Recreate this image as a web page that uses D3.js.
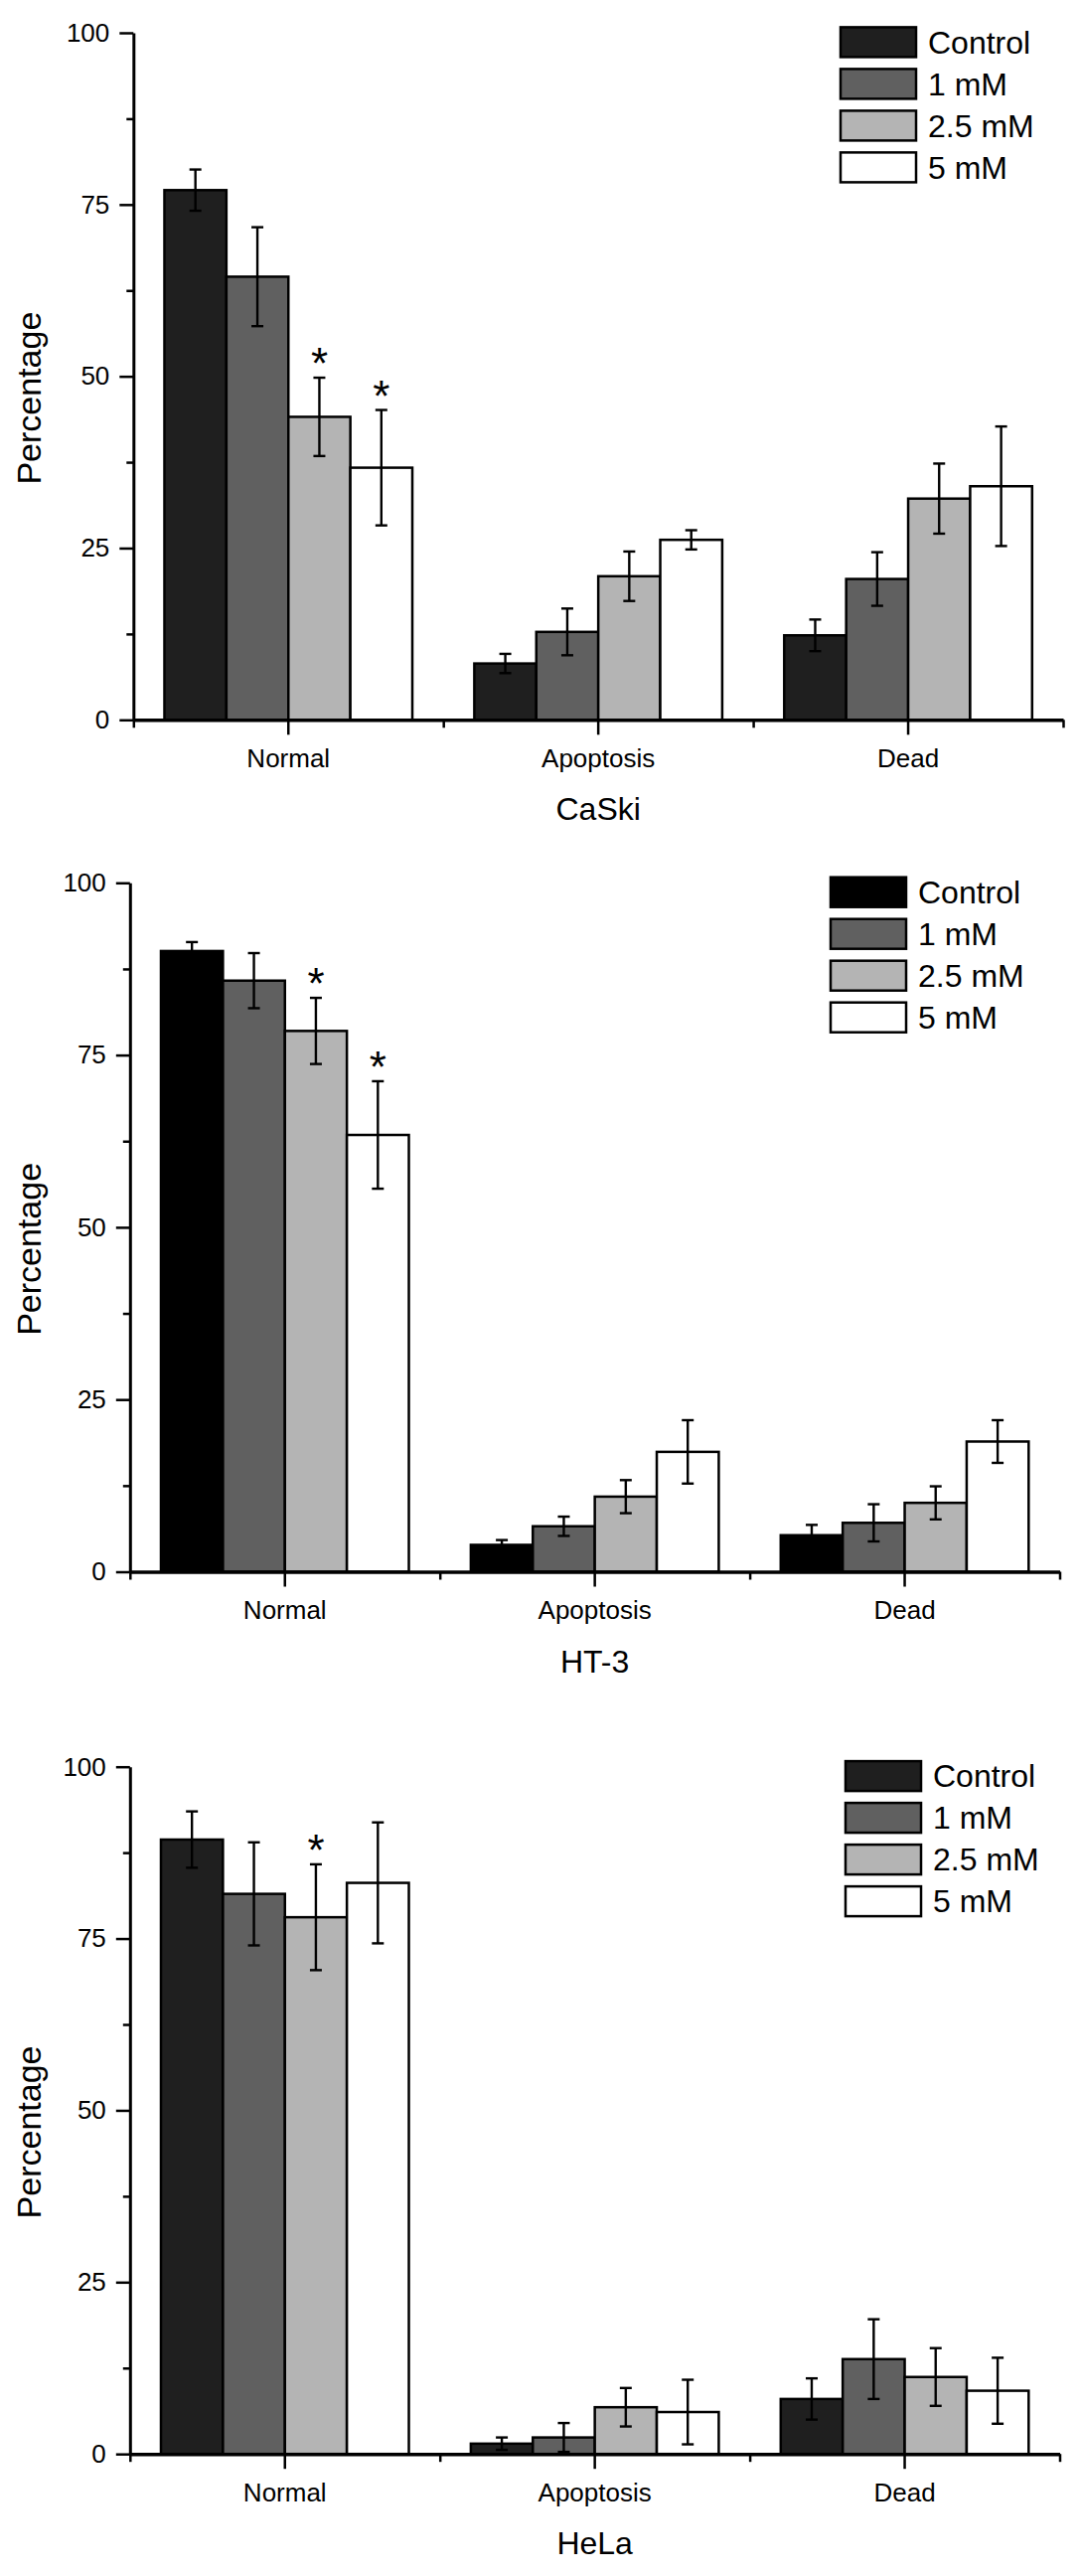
<!DOCTYPE html>
<html>
<head>
<meta charset="utf-8">
<script src="https://cdn.jsdelivr.net/npm/d3@7"></script>
<style>
  html, body { margin: 0; padding: 0; background: #fff; }
  svg { display: block; }
  text { font-family: "Liberation Sans", Arial, Helvetica, sans-serif; fill: #000; }
</style>
</head>
<body>
<script>
// ---------------- DATA ----------------
const categories = ["Normal", "Apoptosis", "Dead"];
const seriesNames = ["Control", "1 mM", "2.5 mM", "5 mM"];
const cellLines = ["CaSki", "HT-3", "HeLa"];
const yTicks = [0, 25, 50, 75, 100];
const yMinorTicks = [12.5, 37.5, 62.5, 87.5];

// means[series][category]
const caskiMeans = [
  [77.1, 8.2, 12.3],
  [64.5, 12.8, 20.5],
  [44.1, 20.9, 32.2],
  [36.7, 26.2, 34.0]
];
const caskiErrors = [
  [3.0, 1.4, 2.3],
  [7.2, 3.4, 3.9],
  [5.7, 3.6, 5.1],
  [8.4, 1.4, 8.7]
];
const caskiSignificant = [[0, 2], [0, 3]]; // [category, series]

const ht3Means = [
  [90.1, 3.9, 5.3],
  [85.8, 6.6, 7.1],
  [78.5, 10.9, 10.0],
  [63.4, 17.4, 18.9]
];
const ht3Errors = [
  [1.3, 0.7, 1.5],
  [4.0, 1.4, 2.7],
  [4.8, 2.4, 2.4],
  [7.8, 4.6, 3.1]
];
const ht3Significant = [[0, 2], [0, 3]];

const helaMeans = [
  [89.4, 1.5, 8.0],
  [81.5, 2.4, 13.8],
  [78.1, 6.8, 11.2],
  [83.1, 6.1, 9.2]
];
const helaErrors = [
  [4.1, 0.9, 3.0],
  [7.5, 2.1, 5.8],
  [7.7, 2.8, 4.2],
  [8.8, 4.7, 4.8]
];
const helaSignificant = [[0, 2]];

const allMeans = [caskiMeans, ht3Means, helaMeans];
const allErrors = [caskiErrors, ht3Errors, helaErrors];
const allSignificant = [caskiSignificant, ht3Significant, helaSignificant];

// ---------------- LAYOUT / STYLE ----------------
const W = 1087, H = 2592;
const panelLayout = [
  { top: 33.0,   bottom: 724.3,  dx: 0,    legendX: 846, controlFill: "#1f1f1f" },
  { top: 888.3,  bottom: 1581.5, dx: -3.5, legendX: 836, controlFill: "#000000" },
  { top: 1777.7, bottom: 2469.2, dx: -3.5, legendX: 851, controlFill: "#1f1f1f" }
];
const xLeft = 134.3, xRight = 1070;
const seriesFills = ["#1f1f1f", "#606060", "#b4b4b4", "#ffffff"];

const svg = d3.select("body").append("svg")
  .attr("width", W).attr("height", H)
  .attr("viewBox", `0 0 ${W} ${H}`);
svg.append("rect").attr("width", W).attr("height", H).attr("fill", "#fff");

panelLayout.forEach((L, p) => {
  const means = allMeans[p], errs = allErrors[p], sig = allSignificant[p];
  const g = svg.append("g").attr("transform", `translate(${L.dx},0)`);

  const x = d3.scaleBand().domain(categories).range([xLeft, xRight]).paddingInner(0).paddingOuter(0);
  const xs = d3.scaleBand().domain(seriesNames).range([x.bandwidth() * 0.1, x.bandwidth() * 0.9]).padding(0);
  const y = d3.scaleLinear().domain([0, 100]).range([L.bottom, L.top]);
  const fills = seriesFills.map((c, i) => i === 0 ? L.controlFill : c);

  // bars
  const barData = [];
  seriesNames.forEach((s, si) => categories.forEach((c, ci) => {
    barData.push({ s, si, c, ci, v: means[si][ci], e: errs[si][ci] });
  }));

  g.append("g").selectAll("rect").data(barData).join("rect")
    .attr("x", d => x(d.c) + xs(d.s))
    .attr("y", d => y(d.v))
    .attr("width", xs.bandwidth())
    .attr("height", d => y(0) - y(d.v))
    .attr("fill", d => fills[d.si])
    .attr("stroke", "#000")
    .attr("stroke-width", 2.5);

  // error bars
  const eg = g.append("g").attr("stroke", "#000").attr("stroke-width", 2.4).attr("fill", "none");
  const capW = 12;
  barData.forEach(d => {
    const cx = x(d.c) + xs(d.s) + xs.bandwidth() / 2;
    const y1 = y(d.v + d.e), y2 = y(d.v - d.e);
    eg.append("line").attr("x1", cx).attr("x2", cx).attr("y1", y1).attr("y2", y2);
    eg.append("line").attr("x1", cx - capW / 2).attr("x2", cx + capW / 2).attr("y1", y1).attr("y2", y1);
    eg.append("line").attr("x1", cx - capW / 2).attr("x2", cx + capW / 2).attr("y1", y2).attr("y2", y2);
  });

  // significance asterisks
  g.append("g").selectAll("text").data(sig).join("text")
    .attr("x", d => x(categories[d[0]]) + xs(seriesNames[d[1]]) + xs.bandwidth() / 2)
    .attr("y", d => y(means[d[1]][d[0]] + errs[d[1]][d[0]]) + 1)
    .attr("text-anchor", "middle")
    .attr("font-size", 44)
    .text("*");

  // y axis
  const yAxis = d3.axisLeft(y).tickValues(yTicks).tickSize(14).tickSizeOuter(0).tickPadding(10).tickFormat(d3.format("d"));
  const ya = g.append("g").attr("transform", `translate(${xLeft},0)`).call(yAxis);
  ya.select(".domain").attr("stroke-width", 3);
  ya.selectAll(".tick line").attr("stroke-width", 2.5);
  ya.selectAll(".tick text").attr("font-size", 26).attr("font-family", "Liberation Sans, Arial, sans-serif");

  const yMinor = d3.axisLeft(y).tickValues(yMinorTicks).tickSize(7).tickFormat("");
  const ym = g.append("g").attr("transform", `translate(${xLeft},0)`).call(yMinor);
  ym.select(".domain").remove();
  ym.selectAll(".tick line").attr("stroke-width", 2.5);

  // x axis
  const xAxis = d3.axisBottom(x).tickSize(15).tickSizeOuter(0).tickPadding(14);
  const xa = g.append("g").attr("transform", `translate(0,${L.bottom})`).call(xAxis);
  xa.select(".domain").attr("stroke-width", 3.5);
  xa.selectAll(".tick line").attr("stroke-width", 2.5);
  xa.selectAll(".tick text").attr("font-size", 26).attr("font-family", "Liberation Sans, Arial, sans-serif");

  const xb = d3.scaleLinear().domain([0, categories.length]).range([xLeft, xRight]);
  const xMinor = d3.axisBottom(xb).tickValues(d3.range(categories.length + 1)).tickSize(8).tickFormat("");
  const xm = g.append("g").attr("transform", `translate(0,${L.bottom})`).call(xMinor);
  xm.select(".domain").remove();
  xm.selectAll(".tick line").attr("stroke-width", 2.5);

  // x title (cell line)
  g.append("text")
    .attr("x", (xLeft + xRight) / 2)
    .attr("y", L.bottom + 101)
    .attr("text-anchor", "middle")
    .attr("font-size", 32)
    .text(cellLines[p]);

  // y title
  const yc = (L.top + L.bottom) / 2 + 22;
  svg.append("text")
    .attr("transform", `translate(41,${yc}) rotate(-90)`)
    .attr("text-anchor", "middle")
    .attr("font-size", 34)
    .text("Percentage");

  // legend
  const lg = svg.append("g").attr("transform", `translate(${L.legendX},${L.top - 5.6})`);
  seriesNames.forEach((s, i) => {
    const row = lg.append("g").attr("transform", `translate(0,${i * 42})`);
    row.append("rect").attr("x", 0).attr("y", 0).attr("width", 76).attr("height", 30)
      .attr("fill", fills[i]).attr("stroke", "#000").attr("stroke-width", 2.5);
    row.append("text").attr("x", 88).attr("y", 15).attr("dy", "0.35em")
      .attr("font-size", 32).text(s);
  });
});
</script>
</body>
</html>
